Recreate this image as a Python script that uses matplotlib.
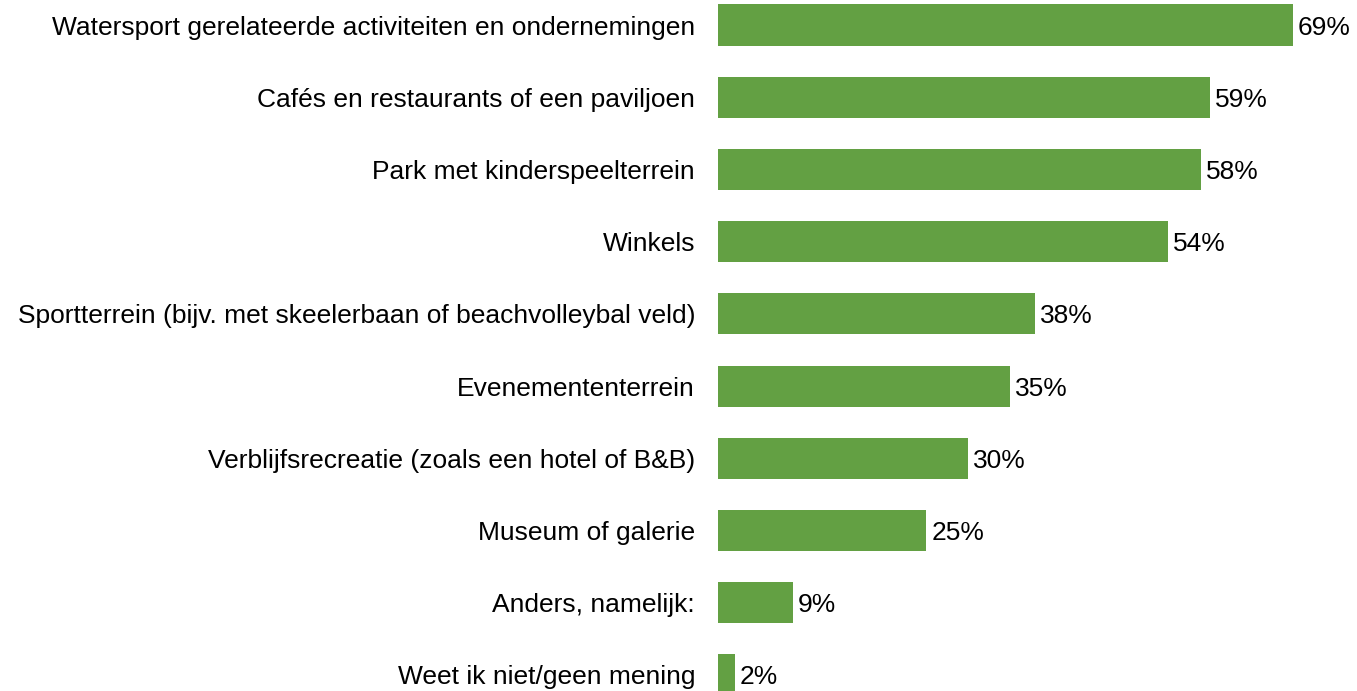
import matplotlib
matplotlib.use("Agg")
import matplotlib.pyplot as plt

categories = [
    "Watersport gerelateerde activiteiten en ondernemingen",
    "Cafés en restaurants of een paviljoen",
    "Park met kinderspeelterrein",
    "Winkels",
    "Sportterrein (bijv. met skeelerbaan of beachvolleybal veld)",
    "Evenemententerrein",
    "Verblijfsrecreatie (zoals een hotel of B&B)",
    "Museum of galerie",
    "Anders, namelijk:",
    "Weet ik niet/geen mening",
]
values = [69, 59, 58, 54, 38, 35, 30, 25, 9, 2]
labels = ["69%", "59%", "58%", "54%", "38%", "35%", "30%", "25%", "9%", "2%"]

plt.rcParams['font.family'] = ['Liberation Sans', 'DejaVu Sans']

fig = plt.figure(figsize=(13.57, 6.91), dpi=100)
ax = fig.add_axes([718 / 1357, 0, 1 - 718 / 1357, 1])

ypos = list(range(len(categories)))
ax.barh(ypos, values, height=0.57, color="#63A043")
for y, v, lab in zip(ypos, values, labels):
    ax.text(v + 0.6, y, lab, va="center_baseline", ha="left", fontsize=19, color="black")

ax.set_yticks(ypos)
ax.set_yticklabels(categories, fontsize=19, va="center_baseline")
ax.tick_params(axis="y", length=0, pad=16.5)
ax.set_xticks([])
ax.set_xlim(0, (1357 - 718) / 8.333)
ax.set_ylim(9 + 16 / 72.2, -25 / 72.2)
for s in ax.spines.values():
    s.set_visible(False)

fig.savefig("out.png", dpi=100)
